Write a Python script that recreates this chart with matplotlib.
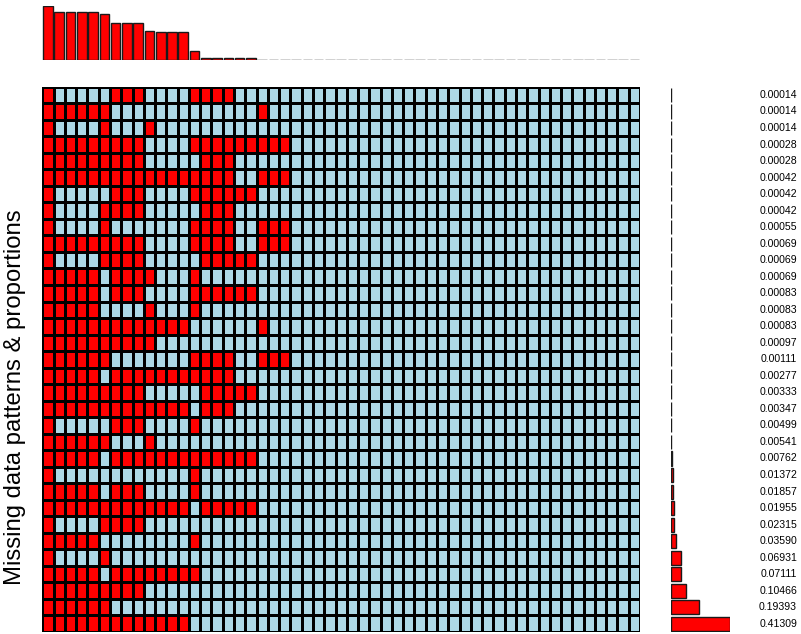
import numpy as np
import matplotlib
matplotlib.use("Agg")
import matplotlib.pyplot as plt
from matplotlib.colors import ListedColormap
import matplotlib.transforms as mtransforms

plt.rcParams['font.family'] = ['Liberation Sans', 'DejaVu Sans']

n_vars = 53

# missing (red) variables per pattern, 1-based, top row first
pattern_missing = [
    "1,7-9,14-17",
    "1-6,20",
    "1,6,10",
    "1-9,14-22",
    "1-9,15-17",
    "1-17,20-22",
    "1,7-9,14-19",
    "1,6-9,15-17",
    "1,6,14-17,20-22",
    "1-9,14-17,20-22",
    "1,6-9,15-19",
    "1-5,7-10,14",
    "1-5,7-9,14-19",
    "1-5,10,14",
    "1-13,20",
    "1-10",
    "1-6,14-17,20-22",
    "1-5,7-17",
    "1-9,15-19",
    "1-13,15-17",
    "1,7-9,14",
    "1-6,10",
    "1-5,7-19",
    "1,14",
    "1-5,7-9,14",
    "1-13,15-19",
    "1,6-9",
    "1-5,14",
    "1,6",
    "1-5,7-14",
    "1-9",
    "1-6",
    "1-13",
]

proportions = [
    0.00014, 0.00014, 0.00014, 0.00028, 0.00028, 0.00042, 0.00042, 0.00042,
    0.00055, 0.00069, 0.00069, 0.00069, 0.00083, 0.00083, 0.00083, 0.00097,
    0.00111, 0.00277, 0.00333, 0.00347, 0.00499, 0.00541, 0.00762, 0.01372,
    0.01857, 0.01955, 0.02315, 0.03590, 0.06931, 0.07111, 0.10466, 0.19393,
    0.41309,
]


def parse(spec):
    out = []
    for part in spec.split(","):
        if "-" in part:
            a, b = part.split("-")
            out.extend(range(int(a), int(b) + 1))
        else:
            out.append(int(part))
    return out


n_pat = len(pattern_missing)
mat = np.zeros((n_pat, n_vars))
for i, spec in enumerate(pattern_missing):
    for c in parse(spec):
        mat[i, c - 1] = 1
props = np.array(proportions)
var_missing = (mat * props[:, None]).sum(axis=0)

W, H = 801, 634
fig = plt.figure(figsize=(W / 100, H / 100), dpi=100)


def fx(px):
    return px / W


def fy(py):
    return 1 - py / H


grid_l, grid_r, grid_t, grid_b = 42.3, 640.0, 86.7, 632.0

# main grid
axg = fig.add_axes([fx(grid_l), fy(grid_b), fx(grid_r - grid_l), fy(grid_t) - fy(grid_b)])
cmap = ListedColormap(["#ADD8E6", "#FF0000"])
axg.pcolormesh(np.arange(n_vars + 1), np.arange(n_pat + 1), mat, cmap=cmap,
               vmin=0, vmax=1, edgecolors="black", linewidth=0.75)
axg.set_xlim(0, n_vars)
axg.set_ylim(n_pat, 0)
axg.axis("off")

# top histogram
top_base, top_top = 60.0, 5.7
axt = fig.add_axes([fx(grid_l), fy(top_base), fx(grid_r - grid_l), fy(top_top) - fy(top_base)])
axt.bar(np.arange(n_vars) + 0.5, var_missing, width=0.85, color="#FF0000",
        edgecolor="#1a1a1a", linewidth=1.0)
axt.set_xlim(0, n_vars)
axt.set_ylim(0, 1)
axt.axis("off")

# right proportions bars
r_l, r_r = 670.7, 730.3
axr = fig.add_axes([fx(r_l), fy(grid_b), fx(r_r - r_l), fy(grid_t) - fy(grid_b)])
axr.barh(np.arange(n_pat) + 0.5, props, height=0.85, color="#FF0000",
         edgecolor="#1a1a1a", linewidth=1.0)
axr.set_xlim(0, max(proportions))
axr.set_ylim(n_pat, 0)
axr.axis("off")

trans = mtransforms.blended_transform_factory(fig.transFigure, axr.transData)
for i, p in enumerate(proportions):
    axr.text(fx(797), i + 0.5, f"{p:.5f}", transform=trans, ha="right",
             va="center", fontsize=7.6, color="black", clip_on=False)

fig.text(fx(15), fy(397), "Missing data patterns & proportions", rotation=90,
         ha="center", va="center", fontsize=17.2)

fig.savefig("out.png", dpi=100)
